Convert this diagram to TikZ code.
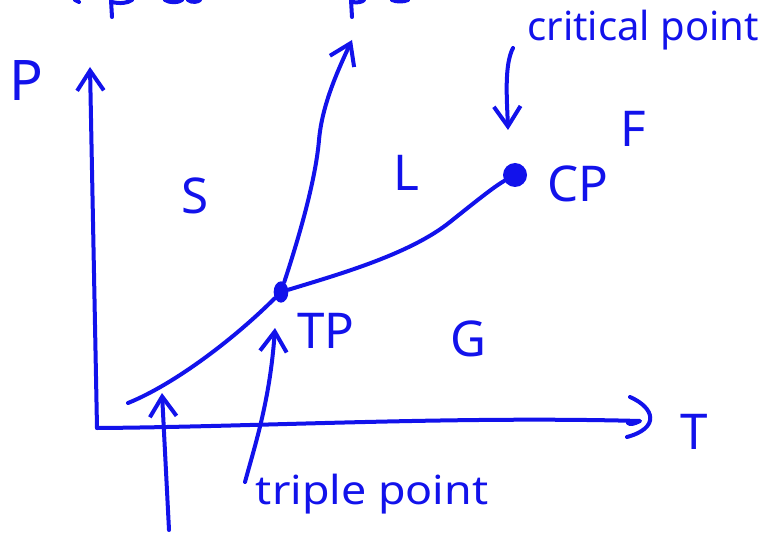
\documentclass[tikz,border=0pt]{standalone}
\usepackage{fontspec}
\setmainfont{Noto Sans}
\usetikzlibrary{arrows.meta,shapes.geometric}
\definecolor{pen}{RGB}{18,18,235}
\tikzset{
  ink/.style={draw=pen, line width=3pt, line cap=round, line join=round},
  barb/.style={ink, -{Straight Barb[length=15pt, width=20pt, line width=3pt]}},
  lbl/.style={text=pen, inner sep=0pt, font=\fontsize{37}{39}\selectfont},
  note/.style={text=pen, inner sep=0pt, font=\fontsize{30}{32}\selectfont},
  bigdot/.style={circle, fill=pen, inner sep=0pt, minimum size=18pt},
  tpdot/.style={ellipse, fill=pen, inner sep=0pt, minimum width=11pt, minimum height=16pt},
}

\begin{document}
\begin{tikzpicture}[x=0.75pt, y=-0.75pt]
  \useasboundingbox (0,0) rectangle (773,541);
  % cut-off writing along the top edge
  \draw[ink] (111,0) -- (112,17);
  \draw[ink] (75,0) -- (79,2);
  \draw[ink] (112,2) .. controls (120,4) and (128,3) .. (132,0);
  \draw[ink] (165,0) .. controls (170,3) and (178,3) .. (182,0);
  \draw[ink] (188,0) .. controls (192,3) and (198,2) .. (200,0);
  \draw[ink] (351,0) -- (352,17);
  \draw[ink] (352,2) .. controls (358,3) and (362,2) .. (364,0);
  \draw[ink] (392,0) .. controls (396,2) and (404,2) .. (408,0);

  % axes
  \coordinate (origin) at (97,428);
  \coordinate (ptop) at (90,67);
  \coordinate (tend) at (640,421);
  \draw[barb] (origin) -- (ptop);
  \draw[ink] (origin) .. controls (250,427) and (450,416) .. (tend)
    .. controls (634,424) and (630,425) .. (628,423);
  \draw[ink] (630,397) .. controls (655,408) and (660,428) .. (627,437);
  \node[lbl, font=\fontsize{42}{44}\selectfont] (plabel) at (26,81) {P};
  \node[lbl] (tlabel) at (694,432) {T};

  % special points
  \node[tpdot] (tp) at (281,292) {};
  \node[bigdot] (cp) at (515,175) {};
  \coordinate (subend) at (128,403);
  \coordinate (melttop) at (352,40);

  % coexistence curves
  \draw[ink] (subend) .. controls (175,384) and (235,338) .. (tp);
  \draw[barb] (tp) .. controls (303,225) and (316,175) .. (319,140)
    .. controls (322,105) and (338,70) .. (melttop);
  \draw[ink] (tp) .. controls (340,274) and (410,254) .. (450,222)
    .. controls (475,202) and (495,186) .. (cp);

  % phase labels
  \node[lbl] (solid) at (195,196) {S};
  \node[lbl] (liquid) at (406,173) {L};
  \node[lbl] (gas) at (468,339) {G};
  \node[lbl] (fluid) at (633,129) {F};
  \node[lbl] (cplabel) at (578,184) {CP};
  \node[lbl] (tplabel) at (326,331) {TP};

  % annotations
  \node[note] (critnote) at (643,30) {critical point};
  \node[note, xscale=1.12] (triplenote) at (372,494) {triple point};
  \coordinate (critstart) at (513,48);
  \coordinate (critend) at (508,130);
  \draw[barb] (critstart) .. controls (504,65) and (507,100) .. (critend);
  \coordinate (triplestart) at (245,482);
  \coordinate (tripleend) at (275,328);
  \draw[barb] (triplestart) .. controls (255,445) and (270,400) .. (tripleend);
  \coordinate (substart) at (169,530);
  \coordinate (subtip) at (162,393);
  \draw[barb] (substart) -- (subtip);
\end{tikzpicture}
\end{document}
